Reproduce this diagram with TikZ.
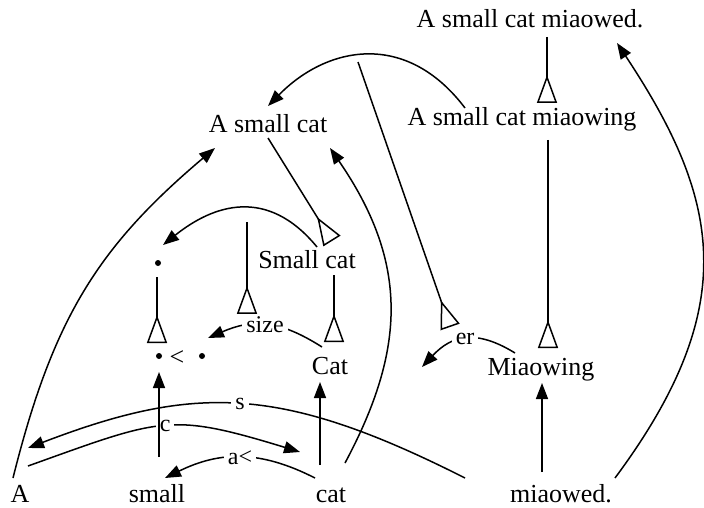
\documentclass[tikz,border=0pt]{standalone}
\usepackage{fontspec}
\setmainfont{Liberation Serif}
\usetikzlibrary{arrows.meta,calc}
\begin{document}
\begin{tikzpicture}[x=1pt,y=-1pt,
  txt/.style={font=\fontsize{26}{30}\selectfont, inner sep=0pt, anchor=base},
  lab/.style={font=\fontsize{24}{26}\selectfont, fill=white, inner xsep=4pt, inner ysep=1pt},
  rel/.style={line width=1.5pt, -{Triangle[length=16pt,width=12pt]}},
  isa/.style={line width=1.5pt, -{Triangle[open,reversed,length=28pt,width=20pt,line width=1.5pt]}},
  dotn/.style={circle, fill=black, inner sep=0pt, minimum size=6pt}]
\useasboundingbox (0,0) rectangle (704,508);
% texts
\node[txt] (T1) at (530,28) {A small cat miaowed.};
\node[txt] (T2) at (522,126) {A small cat miaowing};
\node[txt] (ASC) at (268,133) {A small cat};
\node[txt] (SC) at (307,268) {Small cat};
\node[txt] (CAT) at (330,374) {Cat};
\node[txt] (MW) at (541,375) {Miaowing};
\node[txt] (WA) at (20,502) {A};
\node[txt] (WS) at (157,502) {small};
\node[txt] (WC) at (331,502) {cat};
\node[txt] (WM) at (561,502) {miaowed.};
\node[dotn] (D1) at (158,263) {};
\node[dotn] (D2) at (159,356) {};
\node[dotn] (D3) at (202,356) {};
\node[txt] (LT) at (177,365) {<};
\coordinate (r1) at (247,222);
\coordinate (r2) at (358,62);
\coordinate (erEnd) at (422,367);
% curved relations
\draw[rel] ($(WM.base)+(-96,-24)$) .. controls (281,385) and (195,384) .. node[lab,pos=0.5] {s} ($(WA.base)+(8,-54)$);
\draw[rel] ($(WA.base)+(8,-36)$) .. controls (162,418) and (169,412) .. node[lab,pos=0.5] {c} ($(WC.base)+(-31,-50)$);
\draw[rel] ($(WC.base)+(-16,-24)$) .. controls (260,450) and (220,451) .. node[lab,pos=0.5] {a<} ($(WS.base)+(8,-24)$);
\draw[rel] ($(WC.base)+(14,-39)$) .. controls (406,349) and (409,263) .. ($(ASC.base)+(62,15)$);
\draw[rel] ($(WA.base)+(-7,-24)$) .. controls (53,318) and (98,247) .. ($(ASC.base)+(-53,15)$);
\draw[rel] ($(WM.base)+(54,-24)$) .. controls (742,307) and (721,200) .. ($(T1.base)+(87,15)$);
\draw[rel] ($(T2.base)+(-57,-18)$) .. controls (406,30) and (327,46) .. ($(ASC.base)+(0,-27)$);
\draw[rel] ($(SC.base)+(10,-21)$) .. controls (267,186) and (213,205) .. ($(D1.center)+(5,-18)$);
\draw[rel] ($(CAT.base)+(-8,-27)$) .. controls (278,319) and (252,319) .. node[lab,pos=0.5] (lsize) {size} ($(D3.center)+(6,-18)$);
\draw[rel] ($(MW.base)+(-26,-22)$) .. controls (476,329) and (452,335) .. node[lab,pos=0.5] (ler) {er} (erEnd);
% straight relations
\draw[rel] ($(WS.base)+(2,-45)$) -- ($(D2.center)+(0,16)$);
\draw[rel] ($(WC.base)+(-11,-37)$) -- ($(CAT.base)+(-10,8)$);
\draw[rel] ($(WM.base)+(-19,-30)$) -- ($(MW.base)+(1,8)$);
% isa links
\draw[isa] ($(T1.base)+(17,9)$) -- ($(T2.base)+(25,-23)$);
\draw[isa] ($(T2.base)+(26,14)$) -- ($(MW.base)+(7,-27)$);
\draw[isa] ($(ASC.base)+(0,5)$) -- ($(SC.base)+(25,-27)$);
\draw[isa] ($(SC.base)+(27,7)$) -- ($(CAT.base)+(4,-32)$);
\draw[isa] ($(D1.center)+(-1,14)$) -- ($(D2.center)+(-2,-13)$);
\draw[isa] (r1) -- ($(lsize.center)+(-18,-11)$);
\draw[isa] (r2) -- ($(ler.center)+(-15,-12)$);
\end{tikzpicture}
\end{document}
